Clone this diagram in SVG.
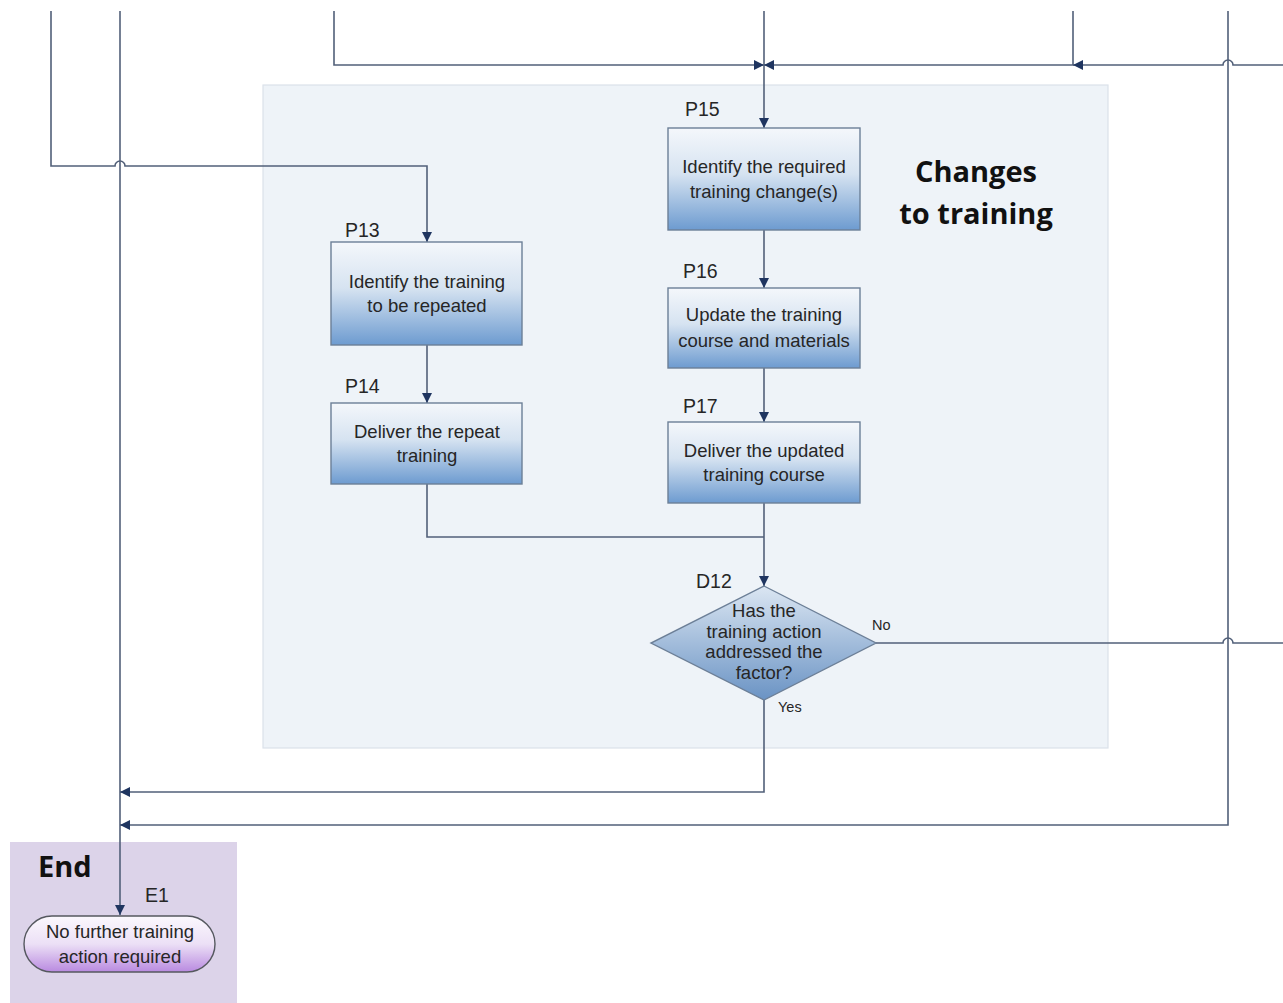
<svg xmlns="http://www.w3.org/2000/svg" width="1283" height="1003" viewBox="0 0 1283 1003">
  <defs>
    <linearGradient id="procFill" x1="0" y1="0" x2="0" y2="1">
      <stop offset="0" stop-color="#f4f7fb"/>
      <stop offset="0.45" stop-color="#d6e3f1"/>
      <stop offset="1" stop-color="#6d9bd0"/>
    </linearGradient>
    <linearGradient id="decFill" x1="0" y1="0" x2="0" y2="1">
      <stop offset="0" stop-color="#dbe6f2"/>
      <stop offset="1" stop-color="#6a93c4"/>
    </linearGradient>
    <linearGradient id="endFill" x1="0" y1="0" x2="0" y2="1">
      <stop offset="0" stop-color="#fbf8fd"/>
      <stop offset="0.5" stop-color="#ece0f6"/>
      <stop offset="1" stop-color="#b98ae0"/>
    </linearGradient>
    <marker id="arrow" viewBox="0 0 10 10" refX="10" refY="5" markerWidth="10" markerHeight="10" markerUnits="userSpaceOnUse" orient="auto">
      <path d="M0,0 L10,5 L0,10 z" fill="#1f3560"/>
    </marker>
    <style>
      .wire { fill: none; stroke: #526079; stroke-width: 1.6; }
      .proc { fill: url(#procFill); stroke: #6c7f97; stroke-width: 1.4; }
      .txt { font-family: "Liberation Sans", Arial, sans-serif; font-size: 18.5px; fill: #262626; text-anchor: middle; }
      .id { font-family: "Liberation Sans", Arial, sans-serif; font-size: 19.5px; fill: #262626; }
      .small { font-family: "Liberation Sans", Arial, sans-serif; font-size: 14.5px; fill: #262626; }
      .title { font-family: "Open Sans", "Liberation Sans", sans-serif; font-size: 29px; font-weight: bold; fill: #111; }
    </style>
  </defs>

  <rect width="1283" height="1003" fill="#ffffff"/>

  <!-- swimlane backgrounds -->
  <g id="lane-changes">
    <rect x="263" y="85" width="845" height="663" fill="#eef3f8" stroke="#dbe2ea" stroke-width="1.2"/>
    <text class="title" x="976" y="182" text-anchor="middle">Changes</text>
    <text class="title" x="976" y="224" text-anchor="middle">to training</text>
  </g>
  <g id="lane-end">
    <rect x="10" y="842" width="227" height="161" fill="#dcd3e9"/>
    <text class="title" x="38" y="877" font-size="31px">End</text>
  </g>

  <!-- connectors -->
  <g id="connectors">
    <!-- from left into P13, hopping the x=120 line -->
    <path class="wire" d="M51,11 V166 H115 A5,5 0 0 1 125,166 H427 V242" marker-end="url(#arrow)"/>
    <!-- long line down to E1 -->
    <path class="wire" d="M120,11 V915" marker-end="url(#arrow)"/>
    <!-- into P15 from top -->
    <path class="wire" d="M334,11 V65 H764" marker-end="url(#arrow)"/>
    <path class="wire" d="M764,11 V128" marker-end="url(#arrow)"/>
    <path class="wire" d="M1073,11 V65 H764" marker-end="url(#arrow)"/>
    <path class="wire" d="M1283,65 H1233 A5,5 0 0 0 1223,65 H1073" marker-end="url(#arrow)"/>
    <!-- right loop back to End -->
    <path class="wire" d="M1228,11 V825 H120" marker-end="url(#arrow)"/>
    <!-- process chain -->
    <path class="wire" d="M427,345 V403" marker-end="url(#arrow)"/>
    <path class="wire" d="M427,484 V537 H764"/>
    <path class="wire" d="M764,230 V288" marker-end="url(#arrow)"/>
    <path class="wire" d="M764,368 V422" marker-end="url(#arrow)"/>
    <path class="wire" d="M764,503 V586" marker-end="url(#arrow)"/>
    <!-- decision outcomes -->
    <path class="wire" d="M876,643 H1223 A5,5 0 0 1 1233,643 H1283"/>
    <path class="wire" d="M764,700 V792 H120" marker-end="url(#arrow)"/>
    <text class="small" x="872" y="630">No</text>
    <text class="small" x="778" y="712">Yes</text>
  </g>

  <g id="P13">
    <rect class="proc" x="331" y="242" width="191" height="103"/>
    <text class="id" x="345" y="237">P13</text>
    <text class="txt" x="427" y="288">Identify the training</text>
    <text class="txt" x="427" y="312">to be repeated</text>
  </g>
  <g id="P14">
    <rect class="proc" x="331" y="403" width="191" height="81"/>
    <text class="id" x="345" y="393">P14</text>
    <text class="txt" x="427" y="438">Deliver the repeat</text>
    <text class="txt" x="427" y="462">training</text>
  </g>
  <g id="P15">
    <rect class="proc" x="668" y="128" width="192" height="102"/>
    <text class="id" x="685" y="116">P15</text>
    <text class="txt" x="764" y="173">Identify the required</text>
    <text class="txt" x="764" y="198">training change(s)</text>
  </g>
  <g id="P16">
    <rect class="proc" x="668" y="288" width="192" height="80"/>
    <text class="id" x="683" y="278">P16</text>
    <text class="txt" x="764" y="321">Update the training</text>
    <text class="txt" x="764" y="347">course and materials</text>
  </g>
  <g id="P17">
    <rect class="proc" x="668" y="422" width="192" height="81"/>
    <text class="id" x="683" y="413">P17</text>
    <text class="txt" x="764" y="457">Deliver the updated</text>
    <text class="txt" x="764" y="481">training course</text>
  </g>
  <g id="D12">
    <polygon points="764,586 876,643 764,700 651,643" fill="url(#decFill)" stroke="#6c7f97" stroke-width="1.4"/>
    <text class="id" x="696" y="588">D12</text>
    <text class="txt" x="764" y="617">Has the</text>
    <text class="txt" x="764" y="638">training action</text>
    <text class="txt" x="764" y="658">addressed the</text>
    <text class="txt" x="764" y="679">factor?</text>
  </g>
  <g id="E1">
    <rect x="24" y="916" width="191" height="56" rx="28" ry="28" fill="url(#endFill)" stroke="#55585f" stroke-width="1.4"/>
    <text class="id" x="145" y="902">E1</text>
    <text class="txt" x="120" y="938">No further training</text>
    <text class="txt" x="120" y="963">action required</text>
  </g>
</svg>
